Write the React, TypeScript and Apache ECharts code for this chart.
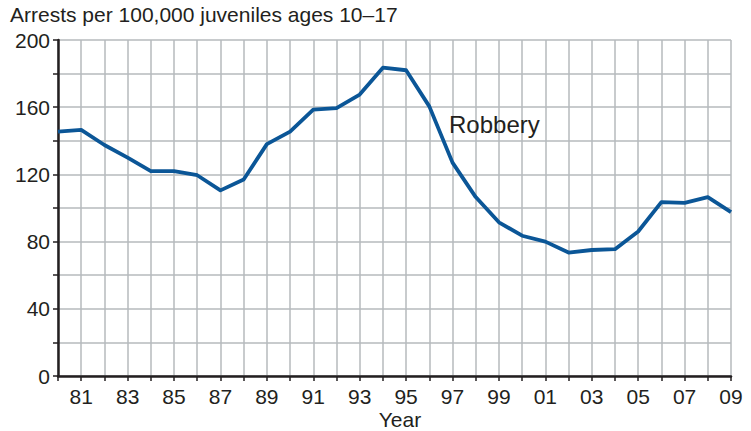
import React, { useEffect, useRef } from "react";
import * as echarts from "echarts";

const years = [1980,1981,1982,1983,1984,1985,1986,1987,1988,1989,1990,1991,1992,1993,1994,1995,1996,1997,1998,1999,2000,2001,2002,2003,2004,2005,2006,2007,2008,2009];
const robbery = [145.5,146.5,137.5,130,122,122,119.5,110.5,117,138,145.5,158.5,159.5,167.5,183.5,182,160.5,127,106.5,91.5,83.5,80,73.5,75,75.5,86,103.5,103,106.5,97.5];
const title = "Arrests per 100,000 juveniles ages 10–17";
const xTitle = "Year";
const seriesLabel = "Robbery";

const FONT = "'Liberation Sans', Arial, Helvetica, sans-serif";
const TEXT = "#231f20";

export default function App() {
  const ref = useRef<HTMLDivElement>(null);
  useEffect(() => {
    if (!ref.current) return;
    const chart = echarts.init(ref.current, undefined, { renderer: "svg" });
    chart.setOption({
      animation: false,
      backgroundColor: "#ffffff",
      grid: { left: 58, right: 20, top: 40, bottom: 55, containLabel: false },
      xAxis: {
        type: "value",
        min: 1980,
        max: 2009,
        interval: 1,
        axisLine: { show: true, onZero: false, lineStyle: { color: "#231f20", width: 2.5 } },
        axisTick: { show: true, length: 5, lineStyle: { color: "#231f20", width: 1.5 } },
        axisLabel: {
          color: TEXT,
          fontFamily: FONT,
          fontSize: 21,
          margin: 10,
          showMinLabel: true,
          showMaxLabel: true,
          formatter: (v: number) => (v % 2 === 1 ? String(v % 100).padStart(2, "0") : ""),
        },
        splitLine: { show: true, lineStyle: { color: "#b6babd", width: 1.5 } },
      },
      yAxis: {
        type: "value",
        min: 0,
        max: 200,
        interval: 20,
        axisLine: { show: true, lineStyle: { color: "#231f20", width: 2.5 } },
        axisTick: { show: true, length: 5, lineStyle: { color: "#231f20", width: 1.5 } },
        axisLabel: {
          color: TEXT,
          fontFamily: FONT,
          fontSize: 21,
          margin: 8,
          formatter: (v: number) => (v % 40 === 0 ? String(v) : ""),
        },
        splitLine: { show: true, lineStyle: { color: "#b6babd", width: 1.5 } },
      },
      series: [
        {
          type: "line",
          data: years.map((y, i) => [y, robbery[i]]),
          showSymbol: false,
          symbol: "none",
          lineStyle: { color: "#0b5697", width: 3.8, join: "round" },
          z: 5,
        },
      ],
      graphic: [
        {
          type: "text",
          left: 10,
          top: 4,
          style: { text: title, fill: TEXT, font: `21px ${FONT}` },
        },
        {
          type: "text",
          x: 400,
          y: 419,
          style: { text: xTitle, fill: TEXT, font: `21px ${FONT}`, align: "center", verticalAlign: "middle" },
        },
        {
          type: "text",
          x: 449,
          y: 124,
          z: 10,
          style: { text: seriesLabel, fill: TEXT, font: `24px ${FONT}`, align: "left", verticalAlign: "middle" },
        },
      ],
    });
    return () => chart.dispose();
  }, []);
  return <div ref={ref} style={{ width: 751, height: 431, position: "absolute", left: 0, top: 0 }} />;
}
